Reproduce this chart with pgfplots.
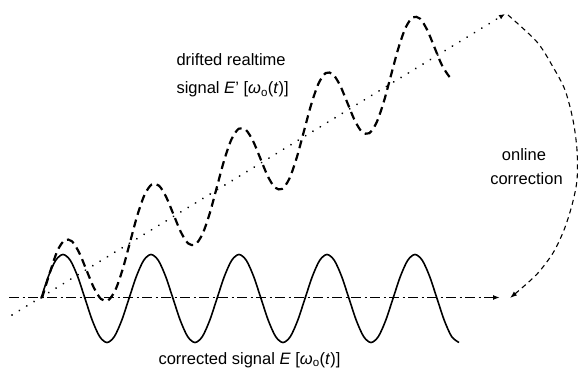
\documentclass[border=0pt]{standalone}
\usepackage{fontspec}
\setmainfont{Liberation Sans}
\usepackage{pgfplots}
\pgfplotsset{compat=1.18}
\usetikzlibrary{arrows.meta}
\begin{document}
\begin{tikzpicture}
\begin{axis}[hide axis, scale only axis, width=578pt, height=375pt,
  xmin=0, xmax=578, ymin=0, ymax=375, clip=false]
% dotted drift line
\addplot[black, line width=1.9pt, line cap=round, dash pattern=on 0.1pt off 8.5pt,
  -{Latex[length=6pt,width=5pt]}] coordinates {(12,60) (505,361)};
% dash-dot reference line
\addplot[black, line width=1.4pt, dash pattern=on 10pt off 3.5pt on 2pt off 3.5pt,
  -{Latex[length=7pt,width=5pt]}] coordinates {(9,77.5) (500,77.5)};
% corrected signal (solid)
\addplot[black, line width=1.6pt, smooth] coordinates {
(41,76.5) (48.33,98.5) (55.67,114.6) (63,120.5) (70.33,114.6) (77.67,98.5)
(85,76.5) (92.33,54.5) (99.67,38.4) (107,32.5) (114.33,38.4) (121.67,54.5)
(129,76.5) (136.33,98.5) (143.67,114.6) (151,120.5) (158.33,114.6) (165.67,98.5)
(173,76.5) (180.33,54.5) (187.67,38.4) (195,32.5) (202.33,38.4) (209.67,54.5)
(217,76.5) (224.33,98.5) (231.67,114.6) (239,120.5) (246.33,114.6) (253.67,98.5)
(261,76.5) (268.33,54.5) (275.67,38.4) (283,32.5) (290.33,38.4) (297.67,54.5)
(305,76.5) (312.33,98.5) (319.67,114.6) (327,120.5) (334.33,114.6) (341.67,98.5)
(349,76.5) (356.33,54.5) (363.67,38.4) (371,32.5) (378.33,38.4) (385.67,54.5)
(393,76.5) (400.33,98.5) (407.67,114.6) (415,120.5) (422.33,114.6) (429.67,98.5)
(437,76.5) (444.33,54.5) (451.67,38.4) (459,32.5)};
% drifted realtime signal (dashed)
\addplot[black, line width=2.2pt, smooth, dash pattern=on 8pt off 5pt] coordinates {
(42,77) (50.25,103.64) (57.5,124.38) (64.75,134.92) (72,133.66) (79.25,122.2)
(86.5,104.84) (93.75,87.48) (101,76.02) (108.25,74.76) (115.5,85.3) (122.75,106.04)
(130,132.68) (137.25,159.32) (144.5,180.06) (151.75,190.6) (159,189.34) (166.25,177.88)
(173.5,160.52) (180.75,143.16) (188,131.7) (195.25,130.44) (202.5,140.98) (209.75,161.72)
(217,188.36) (224.25,215) (231.5,235.74) (238.75,246.28) (246,245.02) (253.25,233.56)
(260.5,216.2) (267.75,198.84) (275,187.38) (282.25,186.12) (289.5,196.66) (296.75,217.4)
(304,244.04) (311.25,270.68) (318.5,291.42) (325.75,301.96) (333,300.7) (340.25,289.24)
(347.5,271.88) (354.75,254.52) (362,243.06) (369.25,241.8) (376.5,252.34) (383.75,273.08)
(391,299.72) (398.25,326.36) (405.5,347.1) (412.75,357.64) (420,356.38) (427.25,344.92)
(434.5,327.56) (441.75,310.2) (449,298.74) (452,296.5)};
% online correction arrow
\addplot[black, line width=1.1pt, smooth, dash pattern=on 5pt off 4pt,
  -{Latex[length=7pt,width=5pt]}] coordinates {
(508,360) (537,333) (553,308) (565,285) (573,255) (577,225) (577,195)
(572,170) (564,145) (553,122) (538,102) (523,88) (510,77)};
% labels
\node[anchor=base west, font=\fontsize{16.5}{18}\selectfont] at (axis cs:173,309) {drifted realtime};
\node[anchor=base west, font=\fontsize{16.5}{18}\selectfont] at (axis cs:173,281) {signal \textit{E}' [\textit{ω}\textsubscript{o}(\textit{t})]};
\node[anchor=base west, font=\fontsize{16.5}{18}\selectfont] at (axis cs:155,11) {corrected signal \textit{E} [\textit{ω}\textsubscript{o}(\textit{t})]};
\node[anchor=base, font=\fontsize{16.5}{18}\selectfont] at (axis cs:524,214) {online};
\node[anchor=base, font=\fontsize{16.5}{18}\selectfont] at (axis cs:526.5,190) {correction};
\end{axis}
\pgfresetboundingbox
\path (0,0) rectangle (578pt,375pt);
\end{tikzpicture}
\end{document}
